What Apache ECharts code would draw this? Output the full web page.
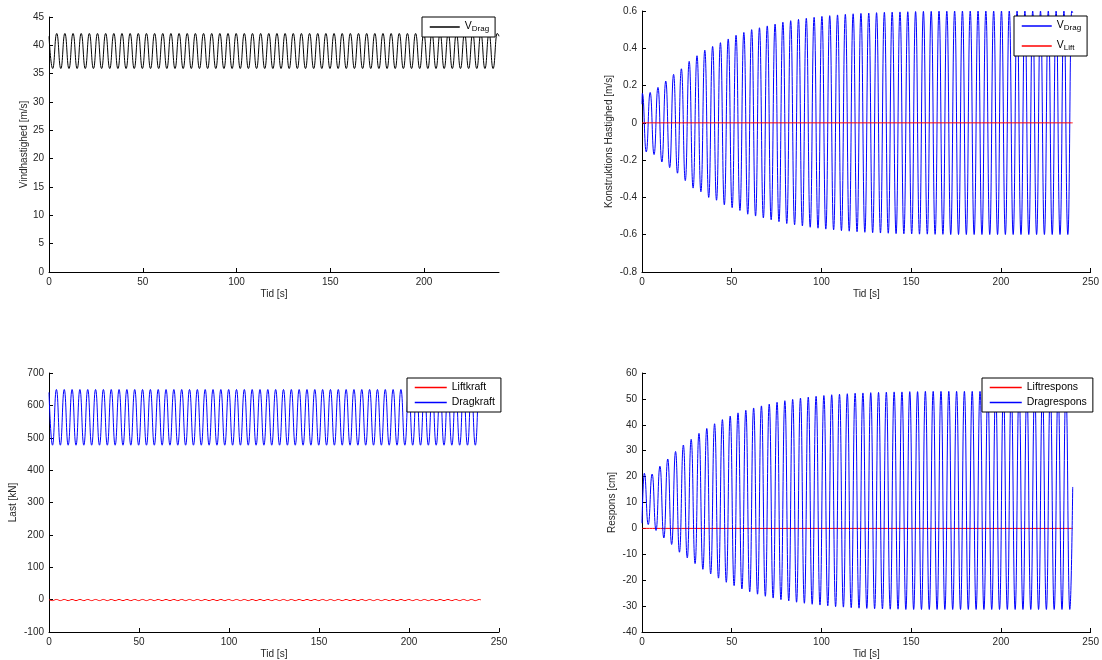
<!DOCTYPE html>
<html>
<head>
<meta charset="utf-8">
<script src="https://cdn.jsdelivr.net/npm/echarts@6/dist/echarts.min.js"></script>
<style>
html,body{margin:0;padding:0;background:#fff;}
#chart{width:1102px;height:660px;}
</style>
</head>
<body>
<div id="chart"></div>
<script type="text/javascript">
// time between two peaks [s]
var period = 4.35;

// --- Vindhastighed (top left), peaks/troughs per cycle
var windStart = [0, 41.6], windEnd = [240, 41.6];
var windPeakT0 = 4.12, windTroughT0 = 1.95;
var windPeaks = [42.1,42.1,42.1,42.1,42.1,42.1,42.1,42.1,42.1,42.1,42.1,42.1,42.1,42.1,42.1,42.1,42.1,42.1,42.1,42.1,42.1,42.1,42.1,42.1,42.1,42.1,42.1,42.1,42.1,42.1,42.1,42.1,42.1,42.1,42.1,42.1,42.1,42.1,42.1,42.1,42.1,42.1,42.1,42.1,42.1,42.1,42.1,42.1,42.1,42.1,42.1,42.1,42.1,42.1,42.1];
var windTroughs = [35.9,35.9,35.9,35.9,35.9,35.9,35.9,35.9,35.9,35.9,35.9,35.9,35.9,35.9,35.9,35.9,35.9,35.9,35.9,35.9,35.9,35.9,35.9,35.9,35.9,35.9,35.9,35.9,35.9,35.9,35.9,35.9,35.9,35.9,35.9,35.9,35.9,35.9,35.9,35.9,35.9,35.9,35.9,35.9,35.9,35.9,35.9,35.9,35.9,35.9,35.9,35.9,35.9,35.9,35.9];

// --- Konstruktions hastighed (top right)
var vDragStart = [0, 0.1], vDragEnd = [240, 0.59];
var vDragPeakT0 = 0.2, vDragTroughT0 = 2.375;
var vDragPeaks = [0.158,0.163,0.19,0.224,0.26,0.29,0.33,0.36,0.39,0.41,0.43,0.45,0.47,0.485,0.50,0.51,0.52,0.53,0.54,0.548,0.555,0.561,0.566,0.571,0.575,0.579,0.582,0.585,0.587,0.589,0.591,0.593,0.594,0.595,0.596,0.597,0.598,0.598,0.599,0.599,0.6,0.6,0.6,0.6,0.6,0.6,0.6,0.6,0.6,0.6,0.6,0.6,0.6,0.6,0.6,0.6];
var vDragTroughs = [-0.156,-0.17,-0.21,-0.24,-0.27,-0.31,-0.35,-0.37,-0.40,-0.415,-0.44,-0.455,-0.47,-0.49,-0.50,-0.51,-0.52,-0.53,-0.54,-0.547,-0.553,-0.56,-0.565,-0.57,-0.574,-0.578,-0.581,-0.584,-0.587,-0.589,-0.591,-0.592,-0.594,-0.595,-0.596,-0.597,-0.597,-0.598,-0.598,-0.599,-0.599,-0.599,-0.599,-0.599,-0.599,-0.599,-0.599,-0.599,-0.599,-0.599,-0.599,-0.599,-0.599,-0.599,-0.599];
var vLiftT = [0, 240];
var vLiftV = [0, 0];

// --- Last (bottom left)
var dragStart = [0, 640], dragEnd = [240, 640];
var dragPeakT0 = 4.12, dragTroughT0 = 1.95;
var dragPeaks = [649,649,649,649,649,649,649,649,649,649,649,649,649,649,649,649,649,649,649,649,649,649,649,649,649,649,649,649,649,649,649,649,649,649,649,649,649,649,649,649,649,649,649,649,649,649,649,649,649,649,649,649,649,649,649];
var dragTroughs = [477,477,477,477,477,477,477,477,477,477,477,477,477,477,477,477,477,477,477,477,477,477,477,477,477,477,477,477,477,477,477,477,477,477,477,477,477,477,477,477,477,477,477,477,477,477,477,477,477,477,477,477,477,477,477];
var liftStart = [0, 0], liftEnd = [240, -1];
var liftPeaks = [0.5,0.5,0.5,0.5,0.5,0.5,0.5,0.5,0.5,0.5,0.5,0.5,0.5,0.5,0.5,0.5,0.5,0.5,0.5,0.5,0.5,0.5,0.5,0.5,0.5,0.5,0.5,0.5,0.5,0.5,0.5,0.5,0.5,0.5,0.5,0.5,0.5,0.5,0.5,0.5,0.5,0.5,0.5,0.5,0.5,0.5,0.5,0.5,0.5,0.5,0.5,0.5,0.5,0.5,0.5];
var liftTroughs = [-3,-3,-3,-3,-3,-3,-3,-3,-3,-3,-3,-3,-3,-3,-3,-3,-3,-3,-3,-3,-3,-3,-3,-3,-3,-3,-3,-3,-3,-3,-3,-3,-3,-3,-3,-3,-3,-3,-3,-3,-3,-3,-3,-3,-3,-3,-3,-3,-3,-3,-3,-3,-3,-3,-3];

// --- Respons (bottom right)
var respStart = [0, 2], respEnd = [240, 16];
var respPeakT0 = 1.3, respTroughT0 = 3.475;
var respPeaks = [21.3,21.0,24.0,26.8,29.7,32.2,34.4,36.7,38.6,40.4,42.0,43.4,44.6,45.6,46.5,47.3,48.0,48.7,49.3,49.8,50.3,50.7,51.0,51.3,51.6,51.8,52.0,52.2,52.3,52.4,52.5,52.6,52.7,52.7,52.8,52.8,52.9,52.9,52.9,52.9,52.9,52.9,52.9,52.9,52.9,52.9,52.9,52.9,52.9,52.9,52.9,52.9,52.9,52.9,52.9];
var respTroughs = [1.5,-0.8,-3.7,-6.2,-9.2,-11.4,-13.6,-15.8,-17.6,-19.2,-20.8,-22.1,-23.4,-24.5,-25.4,-26.2,-26.9,-27.5,-28.0,-28.5,-28.9,-29.3,-29.6,-29.9,-30.2,-30.4,-30.6,-30.8,-30.9,-31.0,-31.1,-31.2,-31.2,-31.3,-31.3,-31.3,-31.3,-31.3,-31.3,-31.3,-31.3,-31.3,-31.3,-31.3,-31.3,-31.3,-31.3,-31.3,-31.3,-31.3,-31.3,-31.3,-31.3,-31.3,-31.3];
var liftRespT = [0, 240];
var liftRespV = [0, 0];

var xTicks = [0, 50, 100, 150, 200];

// puts peaks and troughs on the time axis, one per half cycle
function wave(start, peakT0, peaks, troughT0, troughs, end){
	var pts = [start];
	peaks.forEach(function(v, k){ pts.push([peakT0 + k*period, v]); });
	troughs.forEach(function(v, k){ pts.push([troughT0 + k*period, v]); });
	pts = pts.filter(function(p){ return p[0] < end[0] - 0.4; });
	pts.sort(function(a, b){ return a[0] - b[0]; });
	pts.push(end);
	return pts;
}
function pairs(t, v){
	return t.map(function(x, i){ return [x, v[i]]; });
}

var FONT = 'Liberation Sans';
var txt = {color:'#262626', fontSize:10, fontFamily:FONT};
var BLUE = '#0000ff', RED = '#ff0000', BLACK = '#000000';

function xAx(grid, max){
	var ax = {
		type:'value', gridIndex:grid, min:0, max:max, interval:50,
		name:'Tid [s]', nameLocation:'middle', nameGap:17, nameTextStyle:txt,
		axisLine:{show:true, onZero:false, lineStyle:{color:'#000', width:1}},
		axisTick:{inside:true, length:4, lineStyle:{color:'#000'}},
		axisLabel:Object.assign({margin:5}, txt),
		splitLine:{show:false}
	};
	if (max === 240) {
		ax.axisTick.customValues = xTicks;
		ax.axisLabel.customValues = xTicks;
	}
	return ax;
}
function yAx(grid, min, max, step, name, gap){
	return {
		type:'value', gridIndex:grid, min:min, max:max, interval:step,
		name:name, nameLocation:'middle', nameGap:gap, nameTextStyle:txt,
		axisLine:{show:true, onZero:false, lineStyle:{color:'#000', width:1}},
		axisTick:{inside:true, length:4, lineStyle:{color:'#000'}},
		axisLabel:Object.assign({margin:5}, txt),
		splitLine:{show:false}
	};
}
function line(name, grid, color, data){
	return {
		name:name, type:'line', xAxisIndex:grid, yAxisIndex:grid,
		data:data, showSymbol:false, symbol:'none',
		smooth:0.5, smoothMonotone:'x',
		lineStyle:{color:color, width:1}, itemStyle:{color:color},
		clip:true
	};
}
var rich = {
	v:{fontSize:10.5, fontFamily:FONT, color:'#000', lineHeight:12, verticalAlign:'top'},
	s:{fontSize:8, fontFamily:FONT, color:'#000', lineHeight:10, verticalAlign:'bottom', padding:[4,0,0,0]}
};
var labels = {
	'vind':'{v|V}{s|Drag}', 'vdrag':'{v|V}{s|Drag}', 'vlift':'{v|V}{s|Lift}',
	'Liftkraft':'Liftkraft', 'Dragkraft':'Dragkraft',
	'Liftrespons':'Liftrespons', 'Dragrespons':'Dragrespons'
};
function item(name, color){
	return {name:name, itemStyle:{opacity:0}, lineStyle:{color:color, width:1.5}};
}
function leg(items, left, top, gap, iw){
	return {
		data:items, orient:'vertical', left:left, top:top, selectedMode:false,
		itemWidth:iw, itemHeight:11, itemGap:gap,
		itemStyle:{opacity:0},
		padding:[4,6,4,7], borderColor:'#000', borderWidth:1,
		backgroundColor:'#fff',
		textStyle:{color:'#000', fontSize:10.5, fontFamily:FONT, rich:rich},
		formatter:function(n){ return labels[n]; }
	};
}

var chart = echarts.init(document.getElementById('chart'));
chart.setOption({
	animation:false,
	backgroundColor:'#fff',
	grid:[
		{left:49, top:17, width:450, height:255},
		{left:642, top:11, width:450, height:261},
		{left:49, top:373, width:450, height:260},
		{left:642, top:373, width:450, height:260}
	],
	xAxis:[xAx(0, 240), xAx(1, 250), xAx(2, 250), xAx(3, 250)],
	yAxis:[
		yAx(0, 0, 45, 5, 'Vindhastighed [m/s]', 18),
		yAx(1, -0.8, 0.6, 0.2, 'Konstruktions Hastighed [m/s]', 28),
		yAx(2, -100, 700, 100, 'Last [kN]', 31),
		yAx(3, -40, 60, 10, 'Respons [cm]', 25)
	],
	legend:[
		leg([item('vind', BLACK)], 422, 17, 4, 30),
		leg([item('vdrag', BLUE), item('vlift', RED)], 1014, 16, 8, 30),
		leg([item('Liftkraft', RED), item('Dragkraft', BLUE)], 407, 378, 4, 32),
		leg([item('Liftrespons', RED), item('Dragrespons', BLUE)], 982, 378, 4, 32)
	],
	series:[
		line('vind', 0, BLACK, wave(windStart, windPeakT0, windPeaks, windTroughT0, windTroughs, windEnd)),
		line('vdrag', 1, BLUE, wave(vDragStart, vDragPeakT0, vDragPeaks, vDragTroughT0, vDragTroughs, vDragEnd)),
		line('vlift', 1, RED, pairs(vLiftT, vLiftV)),
		line('Liftkraft', 2, RED, wave(liftStart, dragPeakT0, liftPeaks, dragTroughT0, liftTroughs, liftEnd)),
		line('Dragkraft', 2, BLUE, wave(dragStart, dragPeakT0, dragPeaks, dragTroughT0, dragTroughs, dragEnd)),
		line('Liftrespons', 3, RED, pairs(liftRespT, liftRespV)),
		line('Dragrespons', 3, BLUE, wave(respStart, respPeakT0, respPeaks, respTroughT0, respTroughs, respEnd))
	]
});
</script>
</body>
</html>
